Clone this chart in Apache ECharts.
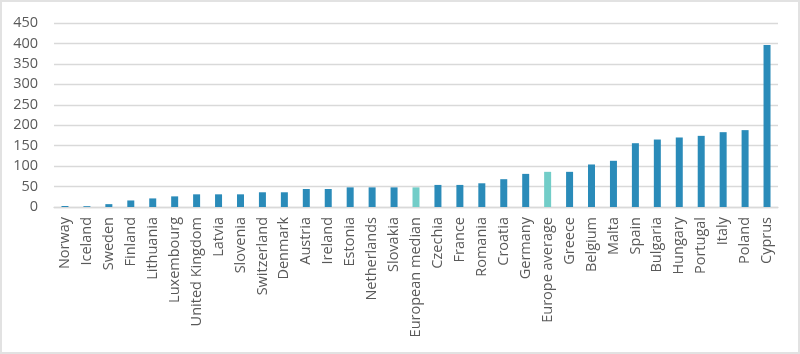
<!DOCTYPE html>
<html>
<head>
<meta charset="utf-8">
<script src="https://cdn.jsdelivr.net/npm/echarts@6/dist/echarts.min.js"></script>
<style>
html,body{margin:0;padding:0;background:#fff;}
#wrap{position:absolute;left:0;top:0;width:796px;height:350px;border:2px solid #e2e2e2;}
#chart{position:absolute;left:0;top:0;width:800px;height:354px;}
</style>
</head>
<body>
<div id="wrap"></div>
<div id="chart"></div>
<script>
const categories = ["Norway","Iceland","Sweden","Finland","Lithuania","Luxembourg","United Kingdom","Latvia","Slovenia","Switzerland","Denmark","Austria","Ireland","Estonia","Netherlands","Slovakia","European median","Czechia","France","Romania","Croatia","Germany","Europe average","Greece","Belgium","Malta","Spain","Bulgaria","Hungary","Portugal","Italy","Poland","Cyprus"];
const values = [2.5,2,7,16,21,26,31,31,31,36,36,44,44,48,48,48,48,54,54,58,68,81,86,86,104,113,156,165,170,174,183,188,396];
const highlighted = ["European median","Europe average"];
const yTicks = [0,50,100,150,200,250,300,350,400,450];

const mainColor = "#2a8bb9";
const highlightColor = "#72cdc8";

const chart = echarts.init(document.getElementById('chart'), null, {renderer:'canvas'});
chart.setOption({
  animation:false,
  backgroundColor:'transparent',
  grid:{left:54,right:22,top:23,bottom:147,containLabel:false},
  xAxis:{
    type:'category',
    data:categories,
    axisLine:{show:true,lineStyle:{color:'#d9d9d9',width:1.3}},
    axisTick:{show:false},
    axisLabel:{rotate:90,interval:0,margin:10,color:'#595959',fontFamily:'Open Sans',fontSize:14.5}
  },
  yAxis:{
    type:'value',
    min:yTicks[0],max:yTicks[yTicks.length-1],interval:50,
    axisLine:{show:false},axisTick:{show:false},
    splitLine:{lineStyle:{color:'#d9d9d9',width:1.3}},
    axisLabel:{margin:16,color:'#595959',fontFamily:'Open Sans',fontSize:14.5}
  },
  series:[{
    type:'bar',
    barWidth:7,
    data:values.map((v,i)=>({value:v,itemStyle:{color:highlighted.includes(categories[i])?highlightColor:mainColor}}))
  }]
});
</script>
</body>
</html>
